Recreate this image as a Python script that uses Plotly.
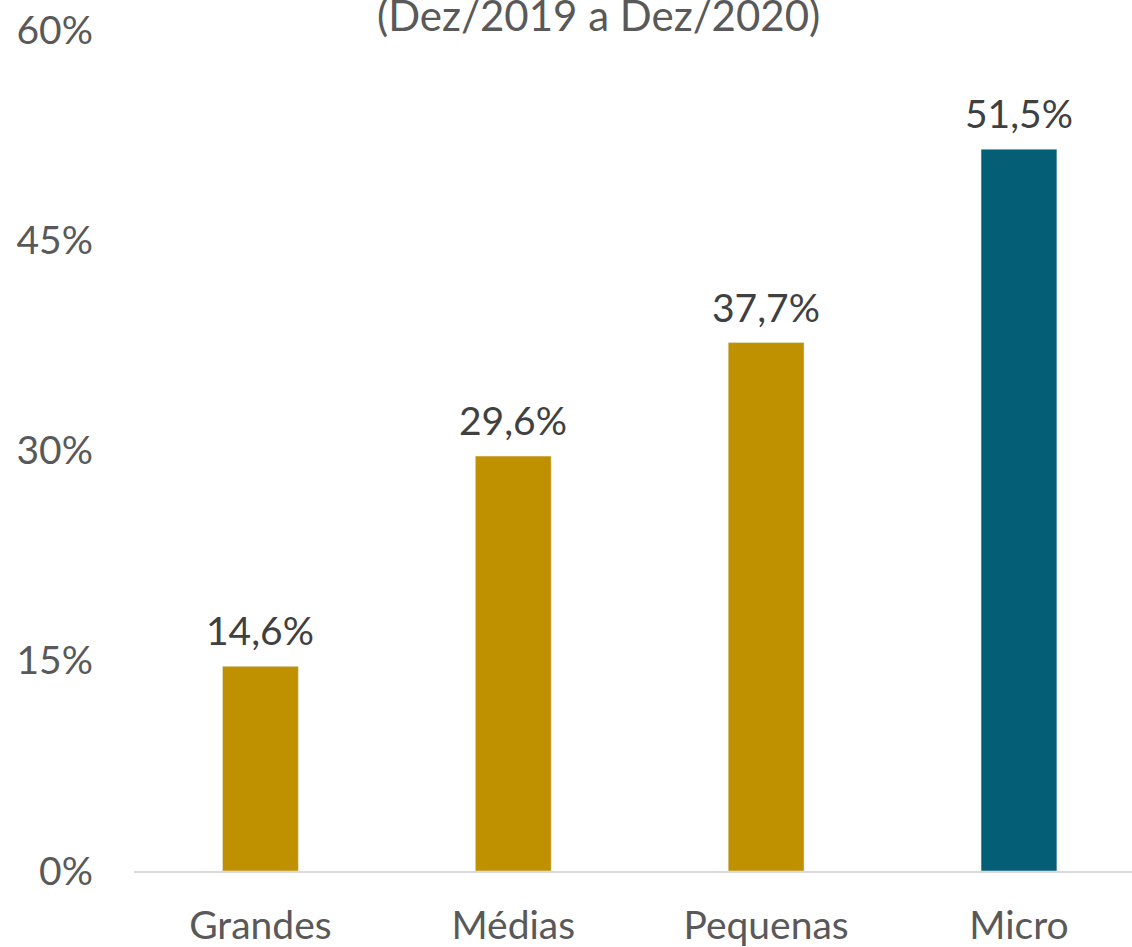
import plotly.graph_objects as go

categories = ["Grandes", "Médias", "Pequenas", "Micro"]
values = [14.6, 29.6, 37.7, 51.5]
labels = ["14,6%", "29,6%", "37,7%", "51,5%"]
colors = ["#BF9000", "#BF9000", "#BF9000", "#045E75"]
tick_vals = [0, 15, 30, 45, 60]
tick_text = ["0%", "15%", "30%", "45%", "60%"]
title_text = "(Dez/2019 a Dez/2020)"

FONT = "Lato, Calibri, Carlito, sans-serif"

fig = go.Figure(go.Bar(
    x=categories, y=values, marker_color=colors, width=0.3,
))

annotations = [dict(text=title_text, xref="paper", yref="paper",
                    x=0.465, y=1.0, yshift=15, xanchor="center", yanchor="middle",
                    showarrow=False, font=dict(family=FONT, size=42, color="#595959"))]
for c, v, t in zip(categories, values, labels):
    annotations.append(dict(x=c, y=v, text=t, xref="x", yref="y", showarrow=False,
                            yanchor="bottom", yshift=11,
                            font=dict(family=FONT, size=39, color="#404040")))

fig.update_layout(
    width=1132, height=947,
    margin=dict(l=134, r=0, t=30, b=76, autoexpand=False),
    plot_bgcolor="white", paper_bgcolor="white",
    showlegend=False,
    font=dict(family=FONT, color="#595959"),
    annotations=annotations,
)
fig.update_xaxes(range=[-0.5, 3.447], showline=True, linecolor="#D9D9D9", linewidth=2,
                 tickfont=dict(family=FONT, size=39, color="#595959"),
                 ticks="", ticklabelstandoff=19, showgrid=False, automargin=False)
fig.update_yaxes(range=[0, 60], tickvals=tick_vals, ticktext=tick_text,
                 showgrid=False, zeroline=False, showline=False, automargin=False,
                 tickfont=dict(family=FONT, size=39, color="#595959"),
                 ticklabelstandoff=40, ticklabeloverflow="allow")

fig.write_html("out.html", config={"displayModeBar": False},
               post_script="document.body.style.margin='0';document.body.style.overflow='hidden';")
